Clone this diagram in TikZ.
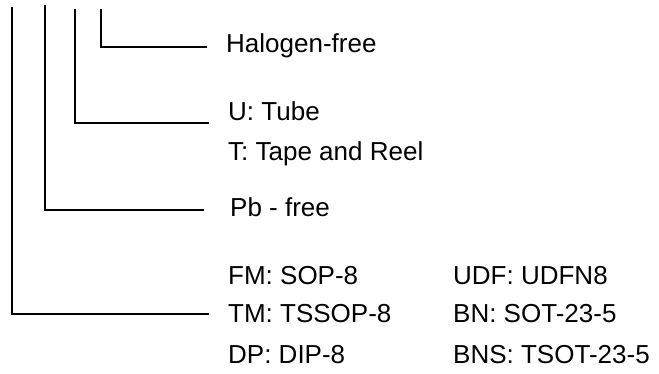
\documentclass[tikz,border=0pt]{standalone}
\usepackage{fontspec}
\setmainfont{Liberation Sans}
\begin{document}
\begin{tikzpicture}[x=1pt,y=-1pt,
  lbl/.style={anchor=base west,inner sep=0pt,font=\fontsize{26}{30}\selectfont},
  wire/.style={line width=2pt,line cap=rect}]
\useasboundingbox (0,0) rectangle (659,374);
% texts
\node[lbl] (hal) at (226,53) {Halogen-free};
\node[lbl] (ut) at (228,121) {U: Tube};
\node[lbl] (tt) at (228,161) {T: Tape and Reel};
\node[lbl] (pb) at (230,217) {Pb - free};
\node[lbl] (fm) at (228,285) {FM: SOP-8};
\node[lbl] (tm) at (228,323) {TM: TSSOP-8};
\node[lbl] (dp) at (228,363) {DP: DIP-8};
\node[lbl] (udf) at (453,285) {UDF: UDFN8};
\node[lbl] (bn) at (453,323) {BN: SOT-23-5};
\node[lbl] (bns) at (453,363) {BNS: TSOT-23-5};
% connector ends
\coordinate (a1) at (12,8);   \coordinate (b1) at (208,314);
\coordinate (a2) at (45,6);   \coordinate (b2) at (203,210);
\coordinate (a3) at (75,10);  \coordinate (b3) at (208,123);
\coordinate (a4) at (101,10); \coordinate (b4) at (206,47);
\draw[wire] (a1) |- (b1);
\draw[wire] (a2) |- (b2);
\draw[wire] (a3) |- (b3);
\draw[wire] (a4) |- (b4);
\end{tikzpicture}
\end{document}
